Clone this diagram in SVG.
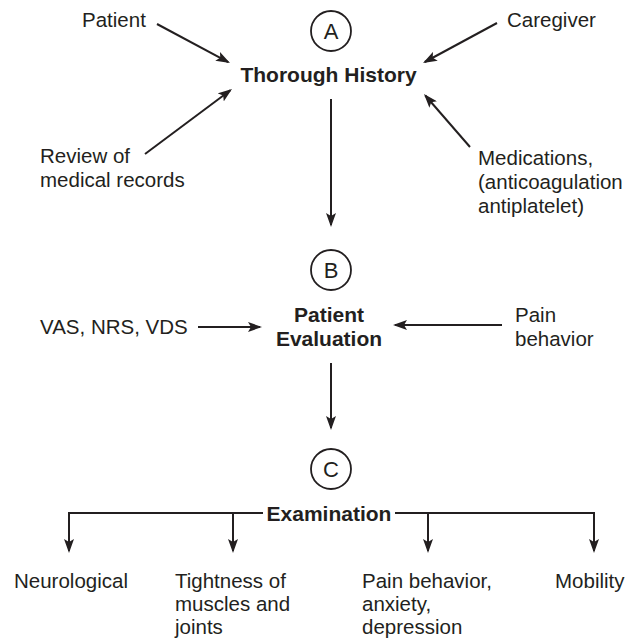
<svg xmlns="http://www.w3.org/2000/svg" width="632" height="641" viewBox="0 0 632 641">
  <style>
    .lbl { font-family: "Liberation Sans", Arial, Helvetica, sans-serif; font-size: 20.5px; fill: #231f20; }
    .hd { font-family: "Liberation Sans", Arial, Helvetica, sans-serif; font-size: 21px; font-weight: bold; fill: #231f20; }
    .tag { font-family: "Liberation Sans", Arial, Helvetica, sans-serif; font-size: 22px; fill: #231f20; text-anchor: middle; }
    .ring { fill: none; stroke: #231f20; stroke-width: 1.8; }
    .wire { fill: none; stroke: #231f20; stroke-width: 2; }
    .arrow { marker-end: url(#head); }
  </style>
  <defs>
    <marker id="head" viewBox="0 0 14 10" refX="12" refY="5" markerWidth="14" markerHeight="10" markerUnits="userSpaceOnUse" orient="auto">
      <path d="M0,0 L14,5 L0,10 L3,5 z" fill="#231f20"/>
    </marker>
  </defs>
  <rect width="632" height="641" fill="#ffffff"/>

  <!-- connectors -->
  <g id="connectors">
    <line class="wire arrow" x1="157" y1="24" x2="228.2" y2="62.1"/>
    <line class="wire arrow" x1="145" y1="154" x2="230.4" y2="90.2"/>
    <line class="wire arrow" x1="497" y1="23" x2="424.8" y2="62"/>
    <line class="wire arrow" x1="470" y1="147" x2="425.3" y2="95.5"/>
    <line class="wire arrow" x1="331" y1="99" x2="331" y2="225"/>
    <line class="wire arrow" x1="198" y1="327" x2="260" y2="327"/>
    <line class="wire arrow" x1="502" y1="325" x2="395" y2="325"/>
    <line class="wire arrow" x1="331" y1="363" x2="331" y2="428"/>
    <polyline class="wire" points="263,513 69,513"/>
    <polyline class="wire" points="395,513 594,513"/>
    <line class="wire arrow" x1="69" y1="512" x2="69" y2="551"/>
    <line class="wire arrow" x1="233" y1="513" x2="233" y2="551"/>
    <line class="wire arrow" x1="428" y1="513" x2="428" y2="551"/>
    <line class="wire arrow" x1="594" y1="512" x2="594" y2="551"/>
  </g>

  <!-- step markers -->
  <g id="step-a"><circle class="ring" cx="331" cy="31" r="20"/><text class="tag" x="331" y="39">A</text></g>
  <g id="step-b"><circle class="ring" cx="331" cy="270" r="20"/><text class="tag" x="331" y="278">B</text></g>
  <g id="step-c"><circle class="ring" cx="331" cy="469" r="20"/><text class="tag" x="331" y="477">C</text></g>

  <!-- stage A -->
  <g id="history"><text class="hd" x="328.5" y="82" text-anchor="middle">Thorough History</text></g>
  <g id="patient"><text class="lbl" x="82" y="27">Patient</text></g>
  <g id="caregiver"><text class="lbl" x="507" y="27">Caregiver</text></g>
  <g id="records"><text class="lbl" x="40" y="163">Review of</text><text class="lbl" x="40" y="187">medical records</text></g>
  <g id="medications">
    <text class="lbl" x="478" y="165">Medications,</text>
    <text class="lbl" x="478" y="189">(anticoagulation</text>
    <text class="lbl" x="478" y="213">antiplatelet)</text>
  </g>

  <!-- stage B -->
  <g id="evaluation">
    <text class="hd" x="329" y="322" text-anchor="middle">Patient</text>
    <text class="hd" x="329" y="346" text-anchor="middle">Evaluation</text>
  </g>
  <g id="scales"><text class="lbl" x="40" y="334">VAS, NRS, VDS</text></g>
  <g id="pain-behavior"><text class="lbl" x="515" y="322">Pain</text><text class="lbl" x="515" y="346">behavior</text></g>

  <!-- stage C -->
  <g id="examination"><text class="hd" x="329" y="521" text-anchor="middle">Examination</text></g>
  <g id="neurological"><text class="lbl" x="14" y="588">Neurological</text></g>
  <g id="tightness">
    <text class="lbl" x="175" y="588">Tightness of</text>
    <text class="lbl" x="175" y="611">muscles and</text>
    <text class="lbl" x="175" y="634">joints</text>
  </g>
  <g id="psych">
    <text class="lbl" x="362" y="588">Pain behavior,</text>
    <text class="lbl" x="362" y="611">anxiety,</text>
    <text class="lbl" x="362" y="634">depression</text>
  </g>
  <g id="mobility"><text class="lbl" x="555" y="588">Mobility</text></g>
</svg>
